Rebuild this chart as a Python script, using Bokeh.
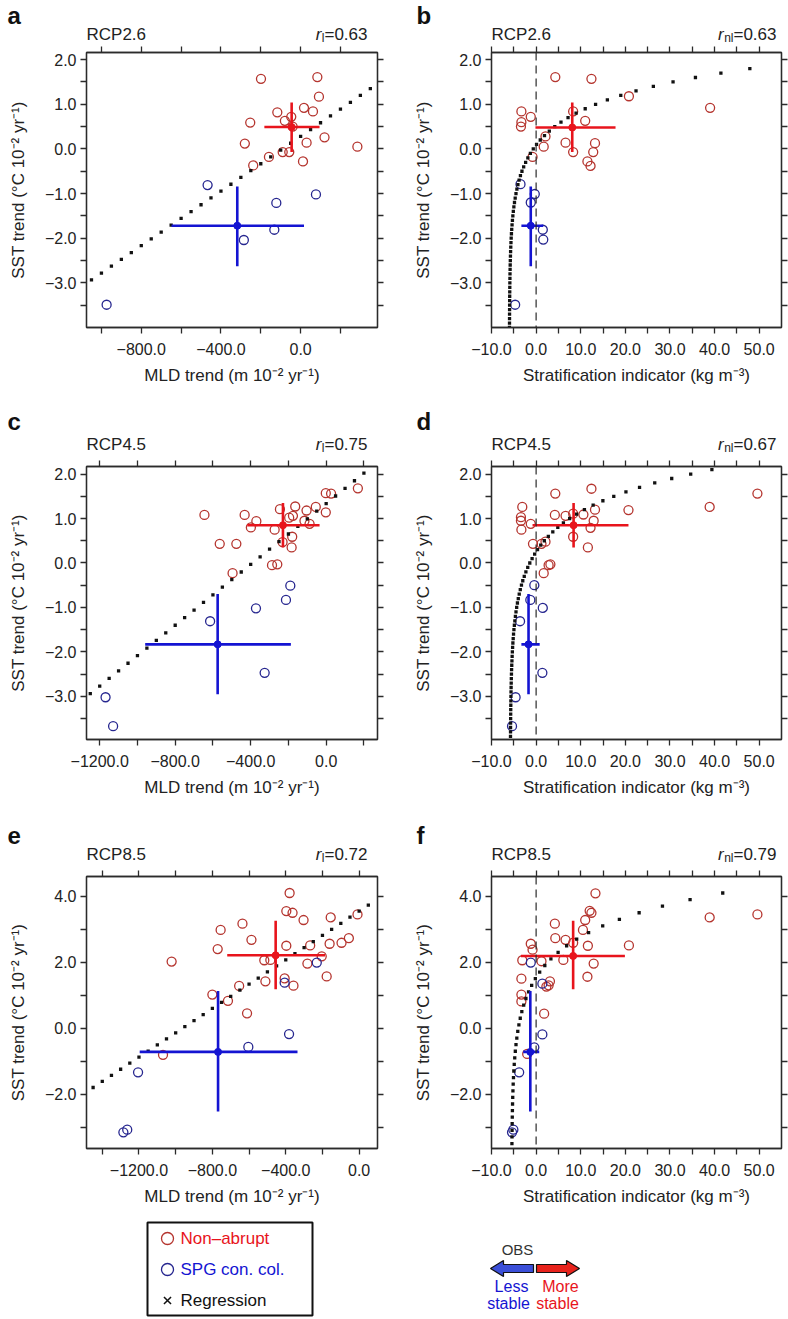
import numpy as np
from bokeh.plotting import figure
from bokeh.models import (Range1d, LinearAxis, FixedTicker, Span, CustomJSTickFormatter)
from bokeh.layouts import column, row
from bokeh.embed import file_html
from bokeh.resources import INLINE
from bokeh.core.properties import value

FONT = "Liberation Sans"
TXT = "#222222"
AXC = "#2b2b2b"
RED_PT = "#b5352f"
BLUE_PT = "#26268f"
RED_M = "#e8141c"
BLUE_M = "#1414d2"

# ---------------- data ----------------
# a: MLD trend vs SST trend, RCP2.6
a_red_x = [-199, 84, 92, 17, 62, -117, -47, -79, -253, 120, 30, -280, 285, -90, -57, -159, -238, 12, -40]
a_red_y = [1.57, 1.61, 1.17, 0.92, 0.84, 0.82, 0.72, 0.63, 0.59, 0.26, 0.14, 0.12, 0.05, -0.07, -0.07, -0.18, -0.37, -0.28, 0.50]
a_blue_x = [-467, 77, -122, -132, -285, -974]
a_blue_y = [-0.81, -1.02, -1.21, -1.81, -2.04, -3.49]
a_red_mean = [-45, 0.49]
a_red_xbar = [-182, 95]
a_red_ybar = [-0.07, 1.04]
a_blue_mean = [-318, -1.72]
a_blue_xbar = [-648, 17]
a_blue_ybar = [-2.63, -0.84]
a_reg = [0.00306, 0.28]          # slope, intercept
a_reg_x = [-1050, 350, 50]       # first x, last x, spacing

# b: stratification indicator vs SST trend, RCP2.6
b_red_x = [4.3, 12.4, 20.8, 39.0, -3.3, 8.3, -1.2, -3.3, -3.4, 11.0, 2.1, 6.6, 13.2, 1.7, 8.3, 12.8, -0.8, 11.5, 12.2]
b_red_y = [1.61, 1.57, 1.18, 0.92, 0.84, 0.84, 0.72, 0.60, 0.50, 0.63, 0.28, 0.14, 0.13, 0.05, -0.07, -0.07, -0.18, -0.28, -0.38]
b_blue_x = [-3.5, -0.3, -1.2, 1.5, 1.6, -4.7]
b_blue_y = [-0.79, -1.01, -1.20, -1.81, -2.03, -3.49]
b_red_mean = [8.1, 0.48]
b_red_xbar = [-0.15, 17.8]
b_red_ybar = [-0.07, 1.04]
b_blue_mean = [-1.2, -1.72]
b_blue_xbar = [-3.3, 1.6]
b_blue_ybar = [-2.63, -0.84]
b_reg = [-1.31, 0.78, -6.0]      # y = a + b*ln(x - x0)
b_reg_y = [-4.0, 1.9, 0.1]

# c: MLD trend vs SST trend, RCP4.5
c_red_x = [-645, -432, -370, -399, -273, -245, -164, -196, -176, -104, -55, -2, -2, 26, 168,
           -115, -88, -180, -231, -183, -564, -476, -287, -259, -496]
c_red_y = [1.08, 1.08, 0.94, 0.80, 0.75, 1.21, 1.27, 1.02, 1.06, 1.18, 1.26, 1.14, 1.57, 1.56, 1.68,
           0.95, 0.88, 0.59, 0.47, 0.35, 0.43, 0.43, -0.05, -0.03, -0.23]
c_blue_x = [-190, -213, -372, -615, -326, -1169, -1129]
c_blue_y = [-0.51, -0.83, -1.02, -1.31, -2.47, -3.02, -3.67]
c_red_mean = [-229, 0.85]
c_red_xbar = [-418, -35]
c_red_ybar = [0.35, 1.35]
c_blue_mean = [-575, -1.83]
c_blue_xbar = [-959, -187]
c_blue_ybar = [-2.95, -0.70]
c_reg = [0.00342, 1.336]
c_reg_x = [-1250, 200, 50]

# d: stratification indicator vs SST trend, RCP4.5
d_red_x = [4.3, 12.4, 38.9, 49.6, 20.7, 13.2, -3.1, -3.4, -3.4, -3.3, -1.2, 4.2, 6.6, 8.3, 10.6,
           12.9, 12.2, 8.3, 11.6, -0.7, 1.2, 2.1, 2.8, 3.2, 1.7]
d_red_y = [1.56, 1.67, 1.26, 1.56, 1.19, 1.20, 1.26, 1.03, 0.95, 0.75, 0.88, 1.08, 1.06, 1.11, 1.09,
           0.95, 0.79, 0.59, 0.35, 0.43, 0.43, 0.48, -0.05, -0.03, -0.23]
d_blue_x = [-0.4, -1.3, 1.5, -3.6, 1.4, -4.6, -5.4]
d_blue_y = [-0.50, -0.83, -1.01, -1.31, -2.47, -3.02, -3.67]
d_red_mean = [8.4, 0.85]
d_red_xbar = [-0.8, 20.7]
d_red_ybar = [0.35, 1.35]
d_blue_mean = [-1.7, -1.83]
d_blue_xbar = [-3.3, 0.8]
d_blue_ybar = [-2.95, -0.70]
d_reg = [-1.33, 0.90, -5.8]
d_reg_y = [-4.0, 2.1, 0.1]

# e: MLD trend vs SST trend, RCP8.5
e_red_x = [-379, -397, -363, -303, -155, -9, -636, -755, -587, -771, -1022, -397, -267, -161, -96,
           -56, -517, -484, -204, -282, -177, -406, -511, -358, -654, -800, -715, -611, -1069]
e_red_y = [4.10, 3.55, 3.50, 3.28, 3.36, 3.45, 3.17, 2.98, 2.68, 2.40, 2.02, 2.50, 2.51, 2.56, 2.59,
           2.73, 2.06, 2.07, 2.18, 1.96, 1.57, 1.51, 1.42, 1.29, 1.28, 1.02, 0.83, 0.45, -0.81]
e_blue_x = [-231, -406, -382, -604, -1205, -1285, -1264]
e_blue_y = [1.99, 1.38, -0.18, -0.57, -1.34, -3.16, -3.08]
e_red_mean = [-455, 2.21]
e_red_xbar = [-719, -186]
e_red_ybar = [1.18, 3.26]
e_blue_mean = [-769, -0.72]
e_blue_xbar = [-1196, -336]
e_blue_ybar = [-2.53, 1.13]
e_reg = [0.00369, 3.55]
e_reg_x = [-1450, 50, 50]

# f: stratification indicator vs SST trend, RCP8.5
f_red_x = [13.3, 12.0, 12.4, 38.9, 49.6, 11.0, 10.5, 4.2, 4.3, 6.6, 8.3, 11.6, 20.8, -1.2, -0.8,
           -3.1, 1.2, 6.1, 12.9, -3.3, 11.5, 3.1, 2.8, 2.3, -3.3, -3.3, 1.8, -2.0]
f_red_y = [4.09, 3.56, 3.50, 3.36, 3.45, 3.28, 2.98, 3.17, 2.73, 2.68, 2.59, 2.50, 2.51, 2.56, 2.38,
           2.06, 2.03, 2.07, 1.96, 1.50, 1.56, 1.42, 1.30, 1.26, 1.02, 0.81, 0.44, -0.78]
f_blue_x = [-1.2, 1.4, 1.4, -0.4, -3.8, -5.1, -5.4]
f_blue_y = [1.99, 1.35, -0.19, -0.58, -1.34, -3.08, -3.16]
f_red_mean = [8.3, 2.19]
f_red_xbar = [-3.4, 19.9]
f_red_ybar = [1.18, 3.26]
f_blue_mean = [-1.3, -0.72]
f_blue_xbar = [-2.9, 0.7]
f_blue_ybar = [-2.53, 1.13]
f_reg = [-0.49, 1.19, -5.5]
f_reg_y = [-3.7, 4.2, 0.2]

scenarios = ["RCP2.6", "RCP4.5", "RCP8.5"]
letters = ["a", "b", "c", "d", "e", "f"]
r_values = ["0.63", "0.63", "0.75", "0.67", "0.72", "0.79"]

# axis ticks (labelled / unlabelled)
mld_ticks_26 = [-800, -400, 0]
mld_minor_26 = [-1000, -600, -200, 200]
mld_ticks_45 = [-1200, -800, -400, 0]
mld_minor_45 = [-1000, -600, -200, 200]
mld_ticks_85 = [-1200, -800, -400, 0]
mld_minor_85 = [-1400, -1000, -600, -200]
strat_ticks = [-10, 0, 10, 20, 30, 40, 50]
strat_minor = [-5, 5, 15, 25, 35, 45]
sst_ticks_lo = [-3, -2, -1, 0, 1, 2]
sst_minor_lo = [-3.5, -2.5, -1.5, -0.5, 0.5, 1.5]
sst_ticks_hi = [-2, 0, 2, 4]
sst_minor_hi = [-3, -1, 1, 3]

mld_range_26 = [-1075, 386]
mld_range_45 = [-1270, 272]
mld_range_85 = [-1486, 100]
strat_range = [-10, 55]
sst_range_26 = [-4.0, 2.16]
sst_range_45 = [-3.97, 2.17]
sst_range_85 = [-3.65, 4.6]

XLAB_MLD = "MLD trend (m 10\u207b\u00b2 yr\u207b\u00b9)"
XLAB_STRAT = "Stratification indicator (kg m\u207b\u00b3)"
YLAB = "SST trend (\u00b0C 10\u207b\u00b2 yr\u207b\u00b9)"

# ---------------- geometry (page pixels, layout starts at 0,0) ----------------
PAGE_W = 788
COLS = [dict(width=394, bl=86, br=17), dict(width=394, bl=97, br=7)]
# letter / title give the vertical centre of the texts
ROWS = [dict(top=0, head=44, height=356, bt=8, bb=73, letter=15, title=34),
        dict(top=400, head=58, height=352, bt=8, bb=71, letter=421, title=444),
        dict(top=810, head=58, height=344, bt=8, bb=64, letter=835, title=854)]
LEG_TOP, LEG_H = 1212, 106
LETTER_X = [7, 416]
TITLE_X = [86, 491]
R_END = [367, 776]

FMT = "return tick.toFixed(1).replace('-', '\\u2212');"


def style_axis(ax, labels, standoff=5, label_standoff=5):
    ax.axis_line_color = AXC
    ax.axis_line_width = 1.3
    ax.major_tick_line_color = AXC
    ax.minor_tick_line_color = AXC
    ax.major_tick_line_width = 1.3
    ax.minor_tick_line_width = 1.3
    ax.major_tick_in = 0
    ax.major_tick_out = 6
    ax.minor_tick_in = 0
    ax.minor_tick_out = 6
    if labels:
        ax.formatter = CustomJSTickFormatter(code=FMT)
        ax.major_label_text_font = FONT
        ax.major_label_text_font_size = "16px"
        ax.major_label_text_color = TXT
        ax.major_label_standoff = standoff
        ax.axis_label_text_font = FONT
        ax.axis_label_text_font_size = "17px"
        ax.axis_label_text_font_style = "normal"
        ax.axis_label_text_color = TXT
        ax.axis_label_standoff = label_standoff
    else:
        ax.formatter = CustomJSTickFormatter(code="return '';")
        ax.major_label_text_font_size = "1px"
        ax.major_label_standoff = 0


def lin_dots(reg, xs_spec):
    xs = np.arange(xs_spec[0], xs_spec[1] + xs_spec[2] / 2, xs_spec[2])
    return xs, reg[1] + reg[0] * xs


def log_dots(reg, ys_spec):
    ys = np.arange(ys_spec[0], ys_spec[1] + ys_spec[2] / 2, ys_spec[2])
    return np.exp((ys - reg[0]) / reg[1]) + reg[2], ys


def make_panel(ci, ri, xr, yr, xt, xm, yt, ym, xlabel, red, blue, rm, bm, reg_xy, dashed):
    C, R = COLS[ci], ROWS[ri]
    p = figure(width=C["width"], height=R["height"], x_range=Range1d(*xr), y_range=Range1d(*yr),
               output_backend="svg", toolbar_location=None, title=None,
               min_border_left=C["bl"], min_border_right=C["br"],
               min_border_top=R["bt"], min_border_bottom=R["bb"])
    p.grid.visible = False
    p.outline_line_color = AXC
    p.outline_line_width = 1.3
    p.background_fill_color = "white"
    p.border_fill_color = "white"

    p.xaxis.ticker = FixedTicker(ticks=xt, minor_ticks=xm)
    p.yaxis.ticker = FixedTicker(ticks=yt, minor_ticks=ym)
    style_axis(p.xaxis[0], True, standoff=9, label_standoff=8)
    style_axis(p.yaxis[0], True, standoff=4, label_standoff=14)
    p.xaxis.axis_label = xlabel
    p.yaxis.axis_label = YLAB
    top = LinearAxis(ticker=FixedTicker(ticks=xt, minor_ticks=xm))
    style_axis(top, False)
    p.add_layout(top, "above")
    right = LinearAxis(ticker=FixedTicker(ticks=yt, minor_ticks=ym))
    style_axis(right, False)
    p.add_layout(right, "right")

    if dashed:
        p.add_layout(Span(location=0, dimension="height", line_color=AXC,
                          line_width=1.2, line_dash="8 5"))

    p.scatter(red[0], red[1], marker="circle", size=9, fill_color=None,
              line_color=RED_PT, line_width=1.3)
    p.scatter(blue[0], blue[1], marker="circle", size=9, fill_color=None,
              line_color=BLUE_PT, line_width=1.3)
    p.scatter(reg_xy[0], reg_xy[1], marker="square", size=3.3,
              fill_color="#111111", line_color=None)

    for (m, xb, yb), col in ((rm, RED_M), (bm, BLUE_M)):
        p.segment(x0=[xb[0], m[0]], y0=[m[1], yb[0]], x1=[xb[1], m[0]], y1=[m[1], yb[1]],
                  line_color=col, line_width=2.6)
        p.scatter([m[0]], [m[1]], marker="circle", size=7, fill_color=col, line_color=col)
    return p


def strip(top, height):
    s = figure(width=PAGE_W, height=height, x_range=Range1d(0, PAGE_W),
               y_range=Range1d(top + height, top), output_backend="svg", title=None,
               toolbar_location=None, min_border=0, x_axis_location=None, y_axis_location=None)
    s.grid.visible = False
    s.outline_line_color = None
    return s


def header(ri):
    R = ROWS[ri]
    h = strip(R["top"], R["head"])
    h.text(x=LETTER_X, y=[R["letter"]] * 2, text=[letters[2 * ri], letters[2 * ri + 1]],
           text_font=value(FONT), text_font_size="24px", text_font_style="bold",
           text_color="#111111", text_baseline="middle", text_align="left")
    h.text(x=TITLE_X, y=[R["title"]] * 2, text=[scenarios[ri]] * 2,
           text_font=value(FONT), text_font_size="17px", text_color=TXT,
           text_baseline="middle", text_align="left")
    for ci, sub in ((0, "l"), (1, "nl")):
        xe = R_END[ci]
        wsub = (0.222 if ci == 0 else 0.778) * 12
        h.text(x=[xe], y=[R["title"]], text=["=" + r_values[2 * ri + ci]],
               text_font=value(FONT), text_font_size="17px", text_color=TXT,
               text_baseline="middle", text_align="right")
        h.text(x=[xe - 43], y=[R["title"] + 3], text=[sub],
               text_font=value(FONT), text_font_size="12px", text_color=TXT,
               text_baseline="middle", text_align="right")
        h.text(x=[xe - 43 - wsub - 0.5], y=[R["title"]], text=["r"],
               text_font=value(FONT), text_font_size="17px", text_font_style="italic",
               text_color=TXT, text_baseline="middle", text_align="right")
    return h


pa = make_panel(0, 0, mld_range_26, sst_range_26, mld_ticks_26, mld_minor_26,
                sst_ticks_lo, sst_minor_lo, XLAB_MLD, (a_red_x, a_red_y), (a_blue_x, a_blue_y),
                (a_red_mean, a_red_xbar, a_red_ybar), (a_blue_mean, a_blue_xbar, a_blue_ybar),
                lin_dots(a_reg, a_reg_x), False)
pb = make_panel(1, 0, strat_range, sst_range_26, strat_ticks, strat_minor,
                sst_ticks_lo, sst_minor_lo, XLAB_STRAT, (b_red_x, b_red_y), (b_blue_x, b_blue_y),
                (b_red_mean, b_red_xbar, b_red_ybar), (b_blue_mean, b_blue_xbar, b_blue_ybar),
                log_dots(b_reg, b_reg_y), True)
pc = make_panel(0, 1, mld_range_45, sst_range_45, mld_ticks_45, mld_minor_45,
                sst_ticks_lo, sst_minor_lo, XLAB_MLD, (c_red_x, c_red_y), (c_blue_x, c_blue_y),
                (c_red_mean, c_red_xbar, c_red_ybar), (c_blue_mean, c_blue_xbar, c_blue_ybar),
                lin_dots(c_reg, c_reg_x), False)
pd_ = make_panel(1, 1, strat_range, sst_range_45, strat_ticks, strat_minor,
                 sst_ticks_lo, sst_minor_lo, XLAB_STRAT, (d_red_x, d_red_y), (d_blue_x, d_blue_y),
                 (d_red_mean, d_red_xbar, d_red_ybar), (d_blue_mean, d_blue_xbar, d_blue_ybar),
                 log_dots(d_reg, d_reg_y), True)
pe = make_panel(0, 2, mld_range_85, sst_range_85, mld_ticks_85, mld_minor_85,
                sst_ticks_hi, sst_minor_hi, XLAB_MLD, (e_red_x, e_red_y), (e_blue_x, e_blue_y),
                (e_red_mean, e_red_xbar, e_red_ybar), (e_blue_mean, e_blue_xbar, e_blue_ybar),
                lin_dots(e_reg, e_reg_x), False)
pf = make_panel(1, 2, strat_range, sst_range_85, strat_ticks, strat_minor,
                sst_ticks_hi, sst_minor_hi, XLAB_STRAT, (f_red_x, f_red_y), (f_blue_x, f_blue_y),
                (f_red_mean, f_red_xbar, f_red_ybar), (f_blue_mean, f_blue_xbar, f_blue_ybar),
                log_dots(f_reg, f_reg_y), True)

# ---------------- legend + OBS arrows strip (page pixel coordinates) ----------------
leg = strip(LEG_TOP, LEG_H)
leg.quad(left=[147], right=[312], top=[1222], bottom=[1315], fill_color=None,
         line_color="#111111", line_width=2)
leg.scatter([167, 167], [1238, 1269], marker="circle", size=12, fill_color=None,
            line_color=[RED_PT, BLUE_PT], line_width=1.3)
leg.scatter([167], [1300], marker="x", size=10, line_color="#111111", line_width=1.5)
leg.text(x=[180, 180, 180], y=[1238, 1269, 1300],
         text=["Non\u2013abrupt", "SPG con. col.", "Regression"],
         text_color=[RED_M, BLUE_M, "#111111"], text_font=value(FONT),
         text_font_size="17px", text_baseline="middle", text_align="left")

leg.text(x=[517], y=[1249], text=["OBS"], text_font=value(FONT), text_font_size="15px",
         text_color="#333333", text_align="center", text_baseline="middle")
leg.patch(x=[490, 503, 503, 533, 533, 503, 503], y=[1268, 1260, 1264, 1264, 1272, 1272, 1276],
          fill_color="#3b4fd8", line_color="#111111", line_width=1.2)
leg.patch(x=[579, 566, 566, 536, 536, 566, 566], y=[1268, 1260, 1264, 1264, 1272, 1272, 1276],
          fill_color="#e8231c", line_color="#111111", line_width=1.2)
leg.text(x=[511, 508, 560, 557], y=[1286, 1303, 1286, 1303],
         text=["Less", "stable", "More", "stable"],
         text_color=[BLUE_M, BLUE_M, RED_M, RED_M], text_font=value(FONT),
         text_font_size="16px", text_align="center", text_baseline="middle")

layout = column(header(0), row(pa, pb), header(1), row(pc, pd_), header(2), row(pe, pf), leg)
open("out.html", "w").write(file_html(layout, INLINE, title="SST trend vs MLD and stratification"))
